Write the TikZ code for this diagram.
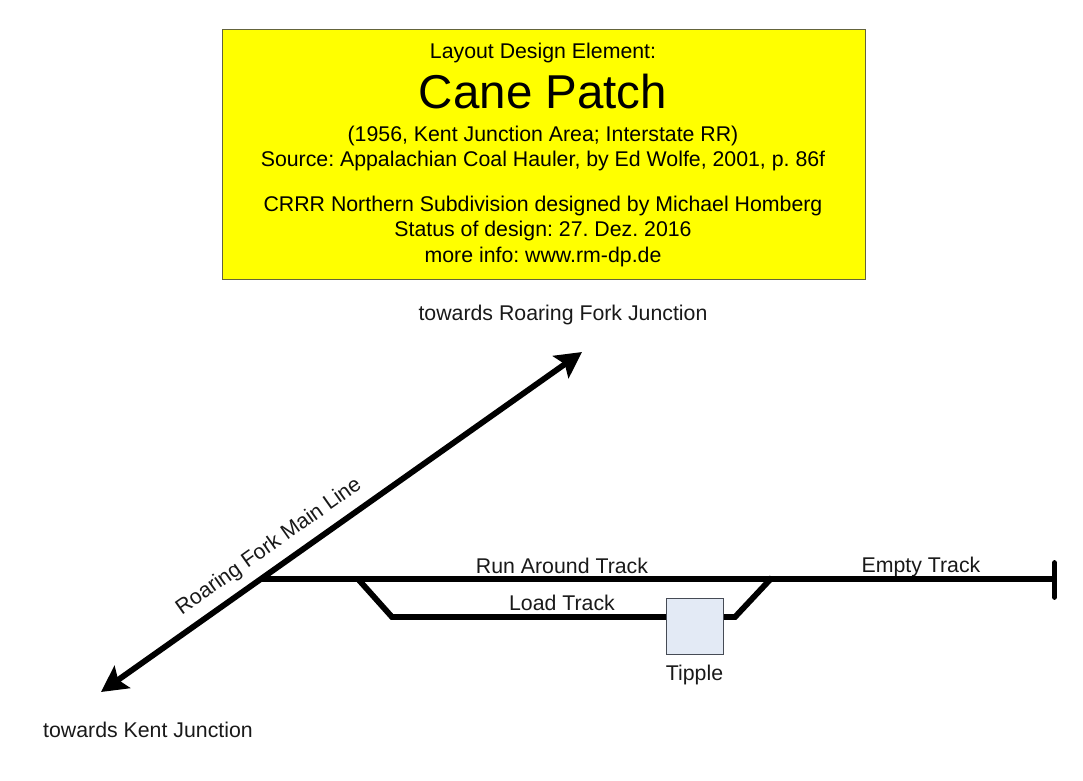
\documentclass[tikz,border=0pt]{standalone}
\usepackage{fontspec}
\setmainfont{Liberation Sans}
\frenchspacing
\usetikzlibrary{arrows.meta}
\definecolor{hdrfill}{RGB}{255,255,0}
\definecolor{hdrline}{RGB}{100,100,60}
\definecolor{tipfill}{RGB}{227,234,245}
\definecolor{tipline}{RGB}{70,75,85}
\definecolor{inkc}{RGB}{25,25,25}
\tikzset{
  lbl/.style={inner sep=0pt,font=\fontsize{21.3}{25}\selectfont,text=inkc},
  hdr/.style={inner sep=0pt,font=\fontsize{21.3}{25}\selectfont,text=black},
  track/.style={line width=5.8pt,draw=black},
  mainline/.style={track,{Stealth[length=26pt,width=27pt,inset=5pt]}-{Stealth[length=26pt,width=27pt,inset=5pt]}},
  bluebox/.style={draw=tipline,line width=1pt,fill=tipfill,minimum width=57pt,minimum height=56pt,inner sep=0pt},
  header/.style={draw=hdrline,line width=1pt,fill=hdrfill,minimum width=643pt,minimum height=250pt,inner sep=0pt}
}
\begin{document}
\begin{tikzpicture}[x=1pt,y=-1pt]
\useasboundingbox (0,0) rectangle (1083,780);
\node[header] (box) at (543.5,154.5) {};
\node[hdr] (t1) at (543,52.5) {Layout Design Element:};
\node[inner sep=0pt,font=\fontsize{47.5}{52}\selectfont] (t2) at (543,92) {Cane Patch};
\node[hdr] (t3) at (543,136) {(1956, Kent Junction Area; Interstate RR)};
\node[hdr] (t4) at (543,161) {Source: Appalachian Coal Hauler, by Ed Wolfe, 2001, p. 86f};
\node[hdr] (t5) at (543,206) {CRRR Northern Subdivision designed by Michael Homberg};
\node[hdr] (t6) at (543,231) {Status of design: 27. Dez. 2016};
\node[hdr] (t7) at (543,257) {more info: www.rm-dp.de};
\node[lbl] (towardsrf) at (563,315) {towards Roaring Fork Junction};
\node[lbl] (towardskj) at (148,729.5) {towards Kent Junction};
\node[lbl,rotate=35.3] (rfml) at (269,547) {Roaring Fork Main Line};
\node[lbl] (rat) at (562,565.5) {Run Around Track};
\node[lbl] (lt) at (562,602.5) {Load Track};
\node[lbl] (et) at (921,567) {Empty Track};
\node[lbl] (tl) at (694.5,675) {Tipple};
\coordinate (ne) at (582,352);
\coordinate (sw) at (101,692);
\coordinate (j) at (260,579.3);
\coordinate (e) at (1054.5,579.3);
\coordinate (a) at (358,579);
\coordinate (b) at (392,617);
\coordinate (c) at (735,617);
\coordinate (d) at (772,577.5);
\coordinate (et1) at (1054.5,563);
\coordinate (et2) at (1054.5,597);
\draw[mainline] (sw) -- (ne);
\draw[track] (j) -- (e);
\draw[track,line join=miter] (a) -- (b) -- (c) -- (d);
\draw[track,line cap=round] (et1) -- (et2);
\node[bluebox] (tipple) at (694.5,626) {};
\end{tikzpicture}
\end{document}
